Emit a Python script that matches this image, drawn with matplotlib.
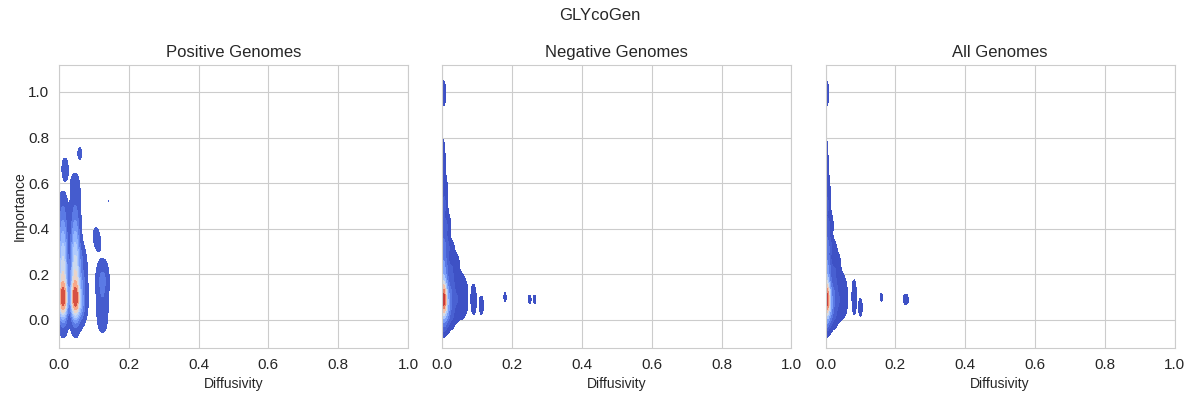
import numpy as np
import matplotlib
matplotlib.use('Agg')
import matplotlib.pyplot as plt
import seaborn as sns

# pontos: difusividade, importancia, peso
pos_x = [0.012, 0.012, 0.012, 0.012, 0.012, 0.012, 0.012, 0.012, 0.012, 0.012, 0.012,
         0.047, 0.047, 0.047, 0.047, 0.047, 0.047, 0.047, 0.047, 0.047, 0.047, 0.047, 0.047,
         0.062, 0.062, 0.062, 0.062, 0.070, 0.070, 0.070,
         0.120, 0.120, 0.120, 0.120, 0.120, 0.130, 0.130, 0.130, 0.130, 0.130,
         0.106, 0.114, 0.018, 0.018, 0.060, 0.142]
pos_y = [-0.02, 0.03, 0.07, 0.10, 0.14, 0.20, 0.26, 0.32, 0.38, 0.44, 0.50,
         -0.02, 0.03, 0.07, 0.10, 0.14, 0.20, 0.26, 0.32, 0.38, 0.44, 0.50, 0.58,
         0.04, 0.10, 0.18, 0.28, 0.07, 0.15, 0.24,
         -0.01, 0.04, 0.10, 0.16, 0.20, -0.01, 0.05, 0.11, 0.17, 0.21,
         0.37, 0.33, 0.64, 0.68, 0.73, 0.52]
pos_w = [2, 9, 20, 24, 22, 18, 15, 12, 9, 5, 3,
         2, 9, 20, 24, 22, 18, 15, 12, 9, 5, 3, 3,
         5, 6, 5, 3, 2.5, 2.5, 1.5,
         0.8, 1.2, 1.8, 2.4, 1.6, 0.8, 1.2, 1.8, 2.4, 1.6,
         1.0, 0.8, 0.8, 0.8, 0.9, 0.7]

neg_x = [0.004, 0.004, 0.004, 0.004, 0.004, 0.004, 0.004, 0.004, 0.004, 0.004,
         0.015, 0.015, 0.015, 0.015, 0.015, 0.015, 0.015, 0.028, 0.028, 0.028, 0.028, 0.028,
         0.042, 0.042, 0.042, 0.042, 0.056, 0.056, 0.056, 0.066, 0.066,
         0.004, 0.008, 0.002, 0.002, 0.003,
         0.090, 0.090, 0.090, 0.112, 0.112, 0.180, 0.250, 0.265]
neg_y = [0.0, 0.05, 0.09, 0.13, 0.18, 0.25, 0.32, 0.40, 0.50, 0.60,
         0.01, 0.05, 0.09, 0.14, 0.22, 0.32, 0.42, 0.02, 0.08, 0.14, 0.22, 0.30,
         0.04, 0.10, 0.18, 0.25, 0.05, 0.10, 0.16, 0.07, 0.13,
         0.70, 0.55, 0.98, 1.01, 0.78,
         0.05, 0.09, 0.13, 0.05, 0.08, 0.10, 0.09, 0.09]
neg_w = [12, 60, 85, 60, 30, 18, 13, 9, 6, 3,
         5, 16, 18, 12, 7, 5, 3, 4, 7, 7, 4, 2,
         2.5, 3.5, 3, 1.5, 2, 2.5, 2, 1.6, 1.6,
         1.4, 1.5, 1.5, 1.5, 0.8,
         0.9, 1.2, 0.9, 0.8, 0.8, 0.95, 0.9, 0.9]

all_x = [0.004, 0.004, 0.004, 0.004, 0.004, 0.004, 0.004, 0.004, 0.004, 0.004,
         0.014, 0.014, 0.014, 0.014, 0.014, 0.014, 0.014, 0.026, 0.026, 0.026, 0.026, 0.026,
         0.037, 0.037, 0.037, 0.037, 0.048, 0.048, 0.048, 0.056, 0.056,
         0.003, 0.006, 0.002, 0.002, 0.003,
         0.082, 0.082, 0.082, 0.100, 0.100, 0.160, 0.225, 0.235]
all_y = [0.0, 0.05, 0.09, 0.13, 0.18, 0.25, 0.32, 0.40, 0.50, 0.60,
         0.01, 0.05, 0.09, 0.14, 0.22, 0.32, 0.42, 0.02, 0.08, 0.14, 0.22, 0.30,
         0.04, 0.10, 0.18, 0.25, 0.05, 0.10, 0.16, 0.07, 0.13,
         0.70, 0.55, 0.98, 1.01, 0.78,
         0.05, 0.10, 0.15, 0.04, 0.07, 0.10, 0.09, 0.09]
all_w = [12, 60, 85, 60, 30, 18, 13, 9, 6, 3,
         5, 16, 18, 12, 7, 5, 3, 4, 7, 7, 4, 2,
         2.5, 3.5, 3, 1.5, 2, 2.5, 2, 1.6, 1.6,
         1.4, 1.5, 1.5, 1.5, 0.8,
         1.0, 1.3, 1.0, 0.8, 0.8, 0.95, 0.85, 0.85]

titulos = ['Positive Genomes', 'Negative Genomes', 'All Genomes']
conjuntos = [(pos_x, pos_y, pos_w, 0.27), (neg_x, neg_y, neg_w, 0.22), (all_x, all_y, all_w, 0.22)]

sns.set_style('whitegrid')
plt.rcParams['font.family'] = ['Liberation Sans', 'DejaVu Sans']

fig, eixos = plt.subplots(1, 3, figsize=(12, 4), sharey=True)
for ax, titulo, (x, y, w, bw) in zip(eixos, titulos, conjuntos):
    sns.kdeplot(x=np.array(x), y=np.array(y), weights=np.array(w), fill=True, cmap='coolwarm',
                bw_method=bw, gridsize=100, thresh=0.02, clip=((0, 1), (-0.12, 1.12)), ax=ax)
    ax.set_xlim(0, 1)
    ax.set_ylim(-0.123, 1.118)
    ax.set_title(titulo, fontsize=12, color='#262626')
    ax.set_xlabel('Diffusivity', fontsize=10)
    ax.set_ylabel('')
    ax.tick_params(labelsize=11)
eixos[0].set_ylabel('Importance', fontsize=10, labelpad=1)
fig.suptitle('GLYcoGen', fontsize=12, x=0.5, y=0.98)
fig.subplots_adjust(left=0.049, right=0.979, top=0.8375, bottom=0.13, wspace=0.0975)
fig.savefig('out.png', dpi=100)
